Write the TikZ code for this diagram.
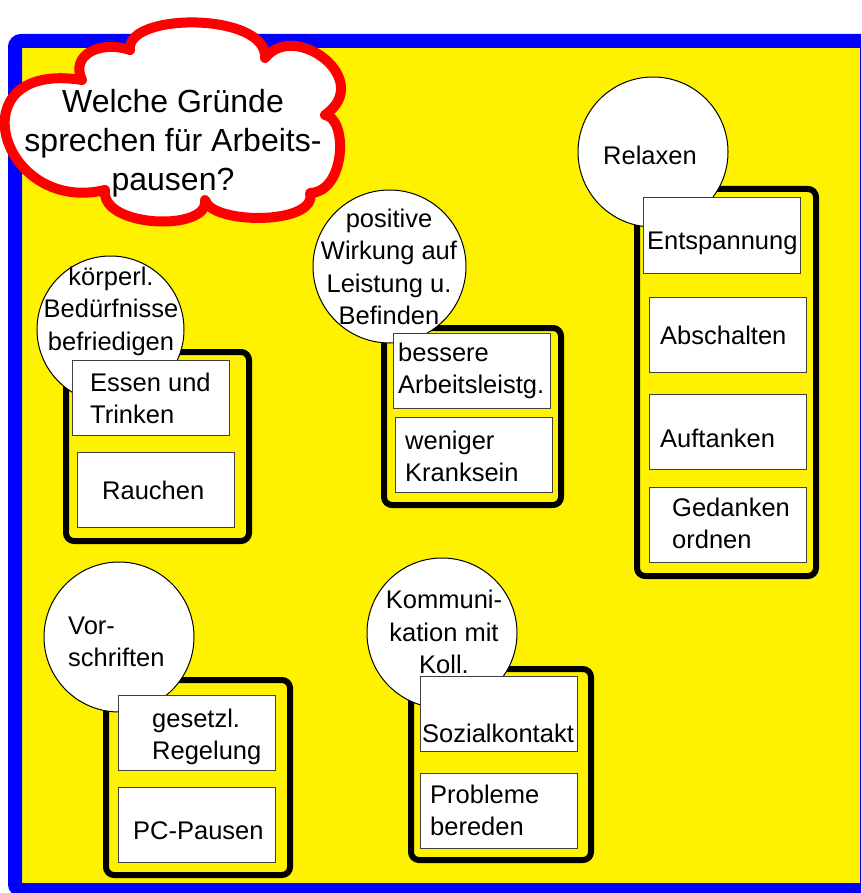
\documentclass[tikz,border=0pt]{standalone}
\usepackage{fontspec}
\setmainfont{Liberation Sans}

\begin{document}
\begin{tikzpicture}[x=1pt, y=-1pt,
	frame/.style={draw=blue, line width=14pt, fill=yellow, rounded corners=6pt},
	groupbox/.style={draw=black, line width=6pt, fill=yellow, rounded corners=8pt},
	topic/.style={circle, draw=black, line width=1pt, fill=white, minimum size=150pt, inner sep=0pt},
	topictext/.style={align=center, inner sep=0pt, font=\fontsize{25.5}{32.5}\selectfont},
	item/.style={draw=black!75, line width=1pt, fill=white, minimum width=157pt, minimum height=75pt, inner sep=0pt},
	itemtext/.style={anchor=west, align=left, inner sep=0pt, font=\fontsize{25.5}{32}\selectfont},
	bubble/.style={draw=red, line width=10pt, line join=round, fill=white},
	bubbletext/.style={align=center, inner sep=0pt, font=\fontsize{32}{39}\selectfont}]
	\useasboundingbox (0,0) rectangle (861,893);
	\clip (0,0) rectangle (861,893);
	\fill[white] (0,0) rectangle (861,893);
	\draw[frame] (15,41) rectangle (867,890);
	% koerperliche Beduerfnisse
	\draw[groupbox] (66,352) rectangle (249,541);
	\node[topic, minimum size=147pt] (koerper) at (110.5,329.5) {};
	\node[topictext] (koerper-t) at (111,311) {körperl.\\Bedürfnisse\\befriedigen};
	\node[item] (essen) at (150.5,398) {};
	\node[itemtext] (essen-t) at (90,398) {Essen und\\Trinken};
	\node[item] (rauchen) at (156,489.5) {};
	\node[itemtext] (rauchen-t) at (102,490) {Rauchen};
	% positive Wirkung
	\draw[groupbox] (384,328) rectangle (561,505);
	\node[topic, minimum size=153pt] (wirkung) at (389.5,266.5) {};
	\node[topictext] (wirkung-t) at (389,267) {positive\\Wirkung auf\\Leistung u.\\Befinden};
	\node[item] (leistung) at (472,370.5) {};
	\node[itemtext] (leistung-t) at (398,371) {bessere\\Arbeitsleistg.};
	\node[item] (krank) at (474,455) {};
	\node[itemtext] (krank-t) at (405,456) {weniger\\Kranksein};
	% Relaxen
	\draw[groupbox] (637,189) rectangle (816,576);
	\node[topic] (relax) at (653,152) {};
	\node[topictext] (relax-t) at (650,155) {Relaxen};
	\node[item] (entsp) at (722,235.5) {};
	\node[itemtext] (entsp-t) at (647,243) {Entspannung};
	\node[item] (absch) at (728,334.5) {};
	\node[itemtext] (absch-t) at (660,335) {Abschalten};
	\node[item] (auft) at (728,432) {};
	\node[itemtext] (auft-t) at (660,438) {Auftanken};
	\node[item] (gedank) at (728,524.5) {};
	\node[itemtext] (gedank-t) at (672,523) {Gedanken\\ordnen};
	% Vorschriften
	\draw[groupbox] (106,680) rectangle (290,875);
	\node[topic] (vorschr) at (119,637) {};
	\node[topictext, align=left, anchor=west] (vorschr-t) at (68,642) {Vor-\\schriften};
	\node[item] (gesetz) at (196.5,732.5) {};
	\node[itemtext] (gesetz-t) at (152,737) {gesetzl.\\Regelung};
	\node[item] (pcpause) at (196.5,825) {};
	\node[itemtext] (pcpause-t) at (133,831) {PC-Pausen};
	% Kommunikation
	\draw[groupbox] (411,669) rectangle (591,860);
	\node[topic] (komm) at (442,633) {};
	\node[topictext] (komm-t) at (444,632) {Kommuni-\\kation mit\\Koll.};
	\node[item] (sozial) at (498.5,713.5) {};
	\node[itemtext] (sozial-t) at (422,733) {Sozialkontakt};
	\node[item] (problem) at (498.5,810.5) {};
	\node[itemtext] (problem-t) at (430,810) {Probleme\\bereden};
	% Frage
	\draw[bubble] (82,80) .. controls (70,55) and (100,40) .. (130,50)
		.. controls (125,12) and (268,12) .. (265,58)
		.. controls (295,20) and (375,80) .. (325,115)
		.. controls (348,118) and (346,192) .. (310,193)
		.. controls (318,225) and (212,225) .. (205,200)
		.. controls (210,232) and (100,228) .. (105,190)
		.. controls (0,215) and (-45,60) .. cycle;
	\node[bubbletext] (frage) at (173,143) {Welche Gründe\\sprechen für Arbeits-\\pausen?};
\end{tikzpicture}
\end{document}
